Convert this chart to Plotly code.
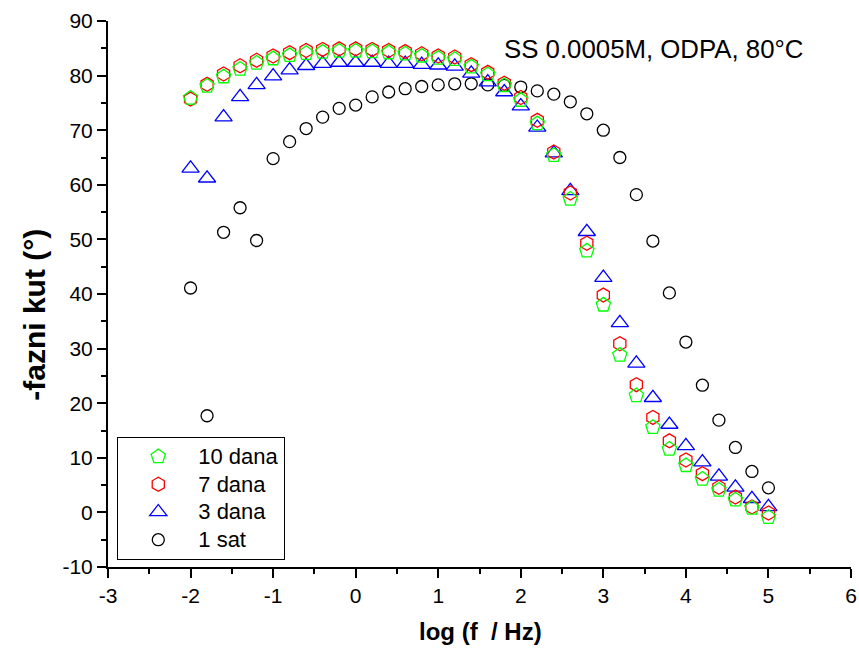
import plotly.graph_objects as go

log_f = [-2.0, -1.8, -1.6, -1.4, -1.2, -1.0, -0.8, -0.6, -0.4, -0.2, 0.0, 0.2,
         0.4, 0.6, 0.8, 1.0, 1.2, 1.4, 1.6, 1.8, 2.0, 2.2, 2.4, 2.6,
         2.8, 3.0, 3.2, 3.4, 3.6, 3.8, 4.0, 4.2, 4.4, 4.6, 4.8, 5.0]

dana_10 = [75.9, 78.1, 79.8, 81.2, 82.3, 83.1, 83.7, 84.1, 84.3, 84.5, 84.5, 84.4,
           84.2, 84.0, 83.6, 83.2, 83.0, 81.6, 80.2, 78.2, 75.5, 71.2, 65.4, 57.4,
           47.9, 38.0, 28.8, 21.4, 15.6, 11.6, 8.6, 6.1, 4.1, 2.3, 0.8, -0.9]

dana_7 = [75.7, 78.4, 80.3, 81.8, 82.8, 83.6, 84.2, 84.6, 84.8, 84.9, 84.9, 84.8,
          84.6, 84.4, 84.0, 83.6, 83.4, 82.0, 80.6, 78.6, 76.0, 71.8, 66.0, 58.5,
          49.3, 39.8, 30.9, 23.4, 17.4, 13.1, 9.6, 7.1, 4.6, 2.8, 1.0, -0.1]

dana_3 = [63.0, 61.2, 72.4, 76.1, 78.3, 79.9, 81.0, 81.8, 82.2, 82.4, 82.4, 82.4,
          82.2, 82.2, 82.0, 81.9, 81.7, 80.4, 78.8, 77.0, 74.4, 70.5, 65.8, 58.9,
          51.4, 43.0, 34.7, 27.3, 21.0, 16.1, 12.2, 9.2, 6.6, 4.6, 2.5, 1.0]

sat_1 = [41.1, 17.7, 51.3, 55.8, 49.8, 64.8, 67.9, 70.3, 72.4, 74.0, 74.6, 76.1,
         77.0, 77.6, 78.0, 78.3, 78.5, 78.5, 78.3, 78.2, 77.9, 77.2, 76.6, 75.2,
         73.0, 70.0, 65.0, 58.2, 49.7, 40.2, 31.2, 23.3, 16.9, 11.9, 7.5, 4.5]

x_ticks = [-3, -2, -1, 0, 1, 2, 3, 4, 5, 6]
x_tick_labels = ["-3", "-2", "-1", "0", "1", "2", "3", "4", "5", "6"]
y_ticks = [-10, 0, 10, 20, 30, 40, 50, 60, 70, 80, 90]
y_tick_labels = ["-10", "0", "10", "20", "30", "40", "50", "60", "70", "80", "90"]

FONT = "Arial, Liberation Sans, sans-serif"

fig = go.Figure()
series = [
    ("1 sat", sat_1, "circle-open", "#000000", 12),
    ("3 dana", dana_3, "triangle-up-open", "#0000FF", 15),
    ("7 dana", dana_7, "hexagon-open", "#FF0000", 14),
    ("10 dana", dana_10, "pentagon-open", "#00FF00", 15),
]
for name, ys, sym, col, sz in series:
    fig.add_trace(go.Scatter(
        x=log_f, y=ys, mode="markers",
        name='<span style="font-size:22px">' + name + '</span>',
        marker=dict(symbol=sym, size=sz, color=col, line=dict(color=col, width=1.3)),
    ))

axis_common = dict(
    showgrid=False, zeroline=False, showline=True, linecolor="black", linewidth=2,
    ticks="outside", ticklen=9, tickwidth=2, tickcolor="black",
    tickfont=dict(family=FONT, size=21, color="black"),
    mirror=False, automargin=False,
)
fig.update_xaxes(range=[-3, 6], tickmode="array", tickvals=x_ticks, ticktext=x_tick_labels,
                 minor=dict(dtick=0.5, ticks="outside", ticklen=5, tickwidth=2, tickcolor="black"),
                 **axis_common)
fig.update_yaxes(range=[-10, 90], tickmode="array", tickvals=y_ticks, ticktext=y_tick_labels,
                 minor=dict(dtick=5, ticks="outside", ticklen=5, tickwidth=2, tickcolor="black"),
                 **axis_common)

fig.update_layout(
    width=859, height=653,
    margin=dict(l=108, r=8, t=21, b=86),
    paper_bgcolor="white", plot_bgcolor="white",
    font=dict(family=FONT, color="black"),
    showlegend=True,
    legend=dict(
        x=0.0125, y=0.2386, xanchor="left", yanchor="top",
        bordercolor="black", borderwidth=1, bgcolor="white",
        font=dict(family=FONT, size=19, color="black"),
        traceorder="reversed", itemwidth=70,
    ),
    annotations=[
        dict(text="SS 0.0005M, ODPA, 80°C", xref="paper", yref="paper",
             x=0.5298, y=0.9487, xanchor="left", yanchor="middle", showarrow=False,
             font=dict(family=FONT, size=25.8, color="black")),
        dict(text="<b>log (f\u00a0\u00a0/ Hz)</b>", xref="paper", yref="paper",
             x=0.502, y=-0.119, xanchor="center", yanchor="middle", showarrow=False,
             font=dict(family=FONT, size=24, color="black")),
        dict(text="<b>-fazni kut (°)</b>", xref="paper", yref="paper",
             x=-0.1, y=0.4615, xanchor="center", yanchor="middle", showarrow=False,
             textangle=-90, font=dict(family=FONT, size=30, color="black")),
    ],
)

fig.write_html(
    "out.html",
    config={"displayModeBar": False},
    post_script="document.body.style.margin='0';document.body.style.overflow='hidden';",
)
